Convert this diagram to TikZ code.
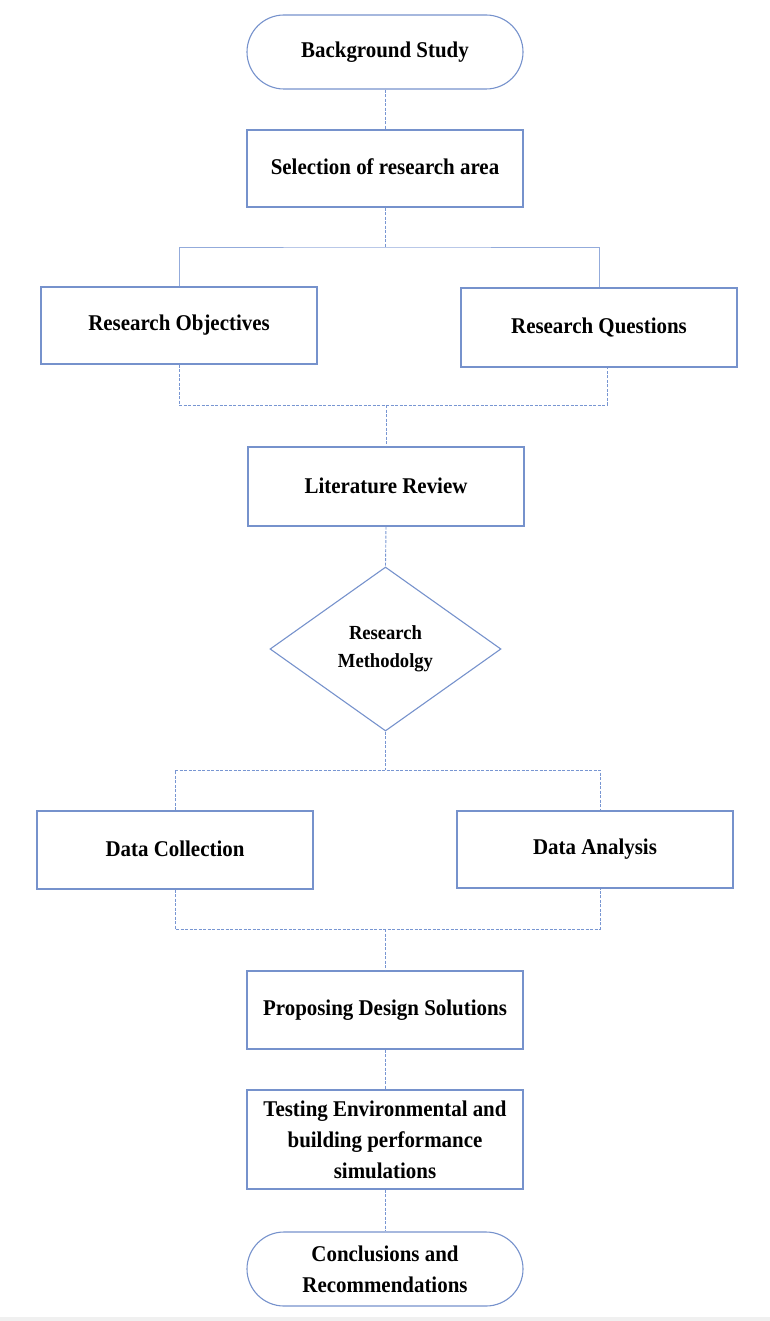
\documentclass[tikz,border=0pt]{standalone}
\usepackage{fontspec}
\setmainfont{Liberation Serif}[FakeStretch=0.93]
\usetikzlibrary{shapes.geometric,calc}
\definecolor{boxblue}{RGB}{118,146,204}
\definecolor{linkblue}{RGB}{120,150,210}
\tikzset{
  x=1pt, y=-1pt,
  boxnode/.style={draw=boxblue, line width=1.1pt, rectangle, minimum width=276pt, inner sep=0pt, align=center,
    font=\bfseries\fontsize{22.5}{31}\selectfont},
  stadium/.style={boxnode, rounded corners=37pt},
  decision/.style={draw=boxblue, line width=1.1pt, diamond, minimum width=231pt, minimum height=164pt, inner sep=0pt,
    align=center, font=\bfseries\fontsize{20}{28}\selectfont},
  dashlink/.style={draw=linkblue, line width=0.9pt, dash pattern=on 3pt off 1.5pt},
  solidlink/.style={draw=linkblue!80, line width=0.8pt}
}
\begin{document}
\begin{tikzpicture}
\useasboundingbox (0,0) rectangle (770,1321);
\fill[gray!12] (0,1317) rectangle (770,1321);

\node[stadium, minimum height=74pt] (bg) at (385,52) {Background Study};
\node[boxnode, minimum height=77pt] (sel) at (385,168.5) {\raisebox{3pt}{Selection of research area}};
\node[boxnode, minimum height=77pt] (obj) at (179,325.5) {\raisebox{3pt}{Research Objectives}};
\node[boxnode, minimum height=79pt] (que) at (599,327.5) {\raisebox{3pt}{Research Questions}};
\node[boxnode, minimum height=79pt] (lit) at (386,486.5) {\raisebox{2pt}{Literature Review}};
\node[decision] (meth) at (385.5,649) {Research\\Methodolgy};
\node[boxnode, minimum height=78pt] (dc) at (175,850) {\raisebox{3pt}{Data Collection}};
\node[boxnode, minimum height=77pt] (da) at (595,849.5) {\raisebox{3pt}{Data Analysis}};
\node[boxnode, minimum height=78pt] (prop) at (385,1010) {\raisebox{3pt}{Proposing Design Solutions}};
\node[boxnode, minimum height=99pt] (test) at (385,1139.5) {Testing Environmental and\\building performance\\simulations};
\node[stadium, minimum height=74pt] (conc) at (385,1269) {Conclusions and\\Recommendations};

\coordinate (j1) at (sel.south |- 0,247);
\coordinate (j2) at (lit.north |- 0,405);
\coordinate (qb) at ([xshift=8pt]que.south);
\coordinate (j3) at (meth.south |- 0,770);
\coordinate (dat) at ([xshift=5pt]da.north);
\coordinate (j4) at (prop.north |- 0,929);
\coordinate (dab) at ([xshift=5pt]da.south);

\draw[dashlink] (bg.south) -- (sel.north);
\draw[dashlink] (sel.south) -- (j1);
\draw[solidlink] (obj.north) |- (j1) -| (que.north);
\draw[dashlink] (obj.south) |- (j2) -| (qb);
\draw[dashlink] (j2) -- (lit.north);
\draw[dashlink] (lit.south) -- (meth.north);
\draw[dashlink] (meth.south) -- (j3);
\draw[dashlink] (dc.north) |- (j3) -| (dat);
\draw[dashlink] (dc.south) |- (j4) -| (dab);
\draw[dashlink] (j4) -- (prop.north);
\draw[dashlink] (prop.south) -- (test.north);
\draw[dashlink] (test.south) -- (conc.north);
\end{tikzpicture}
\end{document}
